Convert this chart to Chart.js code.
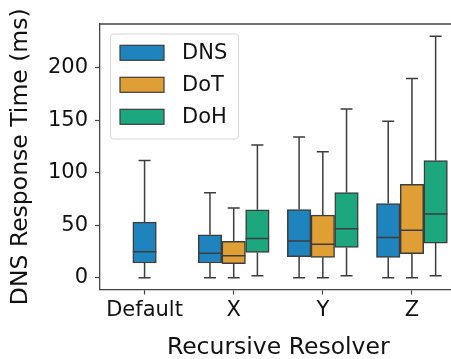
<!DOCTYPE html>
<html lang="en">
<head>
  <meta charset="UTF-8">
  <title>DNS Response Time by Recursive Resolver</title>
  <script src="https://cdn.jsdelivr.net/npm/chart.js"></script>
  <style>
    body {
      margin: 0;
      overflow: hidden;
      background: #fff;
    }
    #wrap {
      width: 470px;
      height: 359px;
    }
  </style>
</head>
<body>
  <div id="wrap"><canvas id="grafico"></canvas></div>

  <script>
    const categories = ['Default', 'X', 'Y', 'Z'];
    const series = ['DNS', 'DoT', 'DoH'];
    const colors = ['#1f84bd', '#e09f35', '#1ca77f'];
    const yTicks = [0, 50, 100, 150, 200];

    // five-number summaries (ms)
    const dnsMin = [0, 0, 0, 0];
    const dnsQ1 = [14, 14, 20, 19.4];
    const dnsMed = [24.7, 23.2, 34.9, 38.4];
    const dnsQ3 = [52.9, 40.9, 65, 70.7];
    const dnsMax = [111.6, 81, 134, 149];

    const dotMin = [null, 0, 0, 0];
    const dotQ1 = [null, 13.3, 19.4, 22.8];
    const dotMed = [null, 20.9, 32, 45.3];
    const dotQ3 = [null, 34.6, 59.6, 89];
    const dotMax = [null, 66.3, 120, 189.8];

    const dohMin = [null, 1.9, 2, 2];
    const dohQ1 = [null, 24.1, 28.9, 33];
    const dohMed = [null, 37.4, 46.6, 60.8];
    const dohQ3 = [null, 64.7, 81.2, 111.6];
    const dohMax = [null, 126.5, 160.7, 230];

    const stats = [
      { min: dnsMin, q1: dnsQ1, med: dnsMed, q3: dnsQ3, max: dnsMax },
      { min: dotMin, q1: dotQ1, med: dotMed, q3: dotQ3, max: dotMax },
      { min: dohMin, q1: dohQ1, med: dohMed, q3: dohQ3, max: dohMax }
    ];

    const FONT = 'DejaVu Sans';
    const EDGE = '#3d3d3d';
    const slot = 0.266;

    // position of a hue within its category (centred when it is alone)
    function xPos(s, c) {
      const present = stats.filter(st => st.q1[c] !== null).length;
      return present === 1 ? c : c + (s - 1) * slot;
    }

    const datasets = series.map((name, s) => ({
      label: name,
      data: categories.map((_, c) => stats[s].q1[c] === null ? null :
        { x: xPos(s, c), y: [stats[s].q1[c], stats[s].q3[c]], c: c }).filter(d => d),
      backgroundColor: colors[s],
      borderColor: EDGE,
      borderWidth: 1.5,
      borderSkipped: false,
      barThickness: 23.5,
      grouped: false
    }));

    const bigotes = {
      id: 'bigotes',
      afterDatasetsDraw(chart) {
        const ctx = chart.ctx;
        const y = chart.scales.y;
        ctx.save();
        ctx.strokeStyle = EDGE;
        ctx.lineWidth = 1.5;
        chart.data.datasets.forEach((ds, s) => {
          const meta = chart.getDatasetMeta(s);
          meta.data.forEach((bar, i) => {
            const c = ds.data[i].c;
            const st = stats[s];
            const x = bar.x;
            const half = bar.width / 2;
            ctx.beginPath();
            ctx.moveTo(x, y.getPixelForValue(st.q3[c]));
            ctx.lineTo(x, y.getPixelForValue(st.max[c]));
            ctx.moveTo(x, y.getPixelForValue(st.q1[c]));
            ctx.lineTo(x, y.getPixelForValue(st.min[c]));
            ctx.moveTo(x - 6, y.getPixelForValue(st.max[c]));
            ctx.lineTo(x + 6, y.getPixelForValue(st.max[c]));
            ctx.moveTo(x - 6, y.getPixelForValue(st.min[c]));
            ctx.lineTo(x + 6, y.getPixelForValue(st.min[c]));
            ctx.moveTo(x - half, y.getPixelForValue(st.med[c]));
            ctx.lineTo(x + half, y.getPixelForValue(st.med[c]));
            ctx.stroke();
          });
        });
        ctx.restore();
      }
    };

    const marco = {
      id: 'marco',
      afterDraw(chart) {
        const ctx = chart.ctx;
        const a = chart.chartArea;
        ctx.save();
        ctx.strokeStyle = '#444';
        ctx.lineWidth = 1.3;
        ctx.beginPath();
        ctx.moveTo(a.left, a.top);
        ctx.lineTo(a.right, a.top);
        ctx.stroke();

        // legend box
        const lx = 110, ly = 33.5, lw = 128, lh = 105;
        ctx.fillStyle = 'rgba(255,255,255,0.85)';
        ctx.strokeStyle = '#d6d6d6';
        ctx.lineWidth = 1;
        ctx.beginPath();
        ctx.roundRect(lx + 0.5, ly + 0.5, lw, lh, 3);
        ctx.fill();
        ctx.stroke();
        ctx.font = '21px "' + FONT + '"';
        ctx.textBaseline = 'middle';
        series.forEach((name, s) => {
          const cy = 52.8 + s * 32;
          ctx.fillStyle = colors[s];
          ctx.fillRect(120, cy - 7.5, 44, 15);
          ctx.strokeStyle = EDGE;
          ctx.lineWidth = 1.2;
          ctx.strokeRect(120, cy - 7.5, 44, 15);
          ctx.fillStyle = '#111';
          ctx.fillText(name, 182, cy + 1);
        });
        ctx.restore();
      }
    };

    new Chart(document.getElementById('grafico'), {
      type: 'bar',
      data: { datasets },
      options: {
        responsive: true,
        maintainAspectRatio: false,
        animation: false,
        layout: { padding: { top: 24, right: 13.5, left: 0, bottom: 0 } },
        plugins: {
          legend: { display: false },
          tooltip: { enabled: false }
        },
        scales: {
          x: {
            type: 'linear',
            offset: false,
            min: -0.5,
            max: 3.5,
            afterBuildTicks: s => { s.ticks = categories.map((_, i) => ({ value: i })); },
            afterFit: s => { s.height = 69.5; },
            grid: { display: true, offset: false, drawOnChartArea: false, tickLength: 5, tickColor: '#444', tickWidth: 1.2 },
            border: { color: '#444', width: 1.3 },
            ticks: {
              callback: v => categories[v],
              color: '#111',
              padding: 3,
              maxRotation: 0,
              font: { family: FONT, size: 21 }
            },
            title: {
              display: true,
              text: 'Recursive Resolver',
              color: '#111',
              padding: { top: 0, bottom: -3 },
              font: { family: FONT, size: 23.5 }
            }
          },
          y: {
            min: -11.2,
            max: 241.6,
            afterBuildTicks: s => { s.ticks = yTicks.map(v => ({ value: v })); },
            afterFit: s => { s.width = 100; },
            grid: { display: true, drawOnChartArea: false, tickLength: 5, tickColor: '#444', tickWidth: 1.2 },
            border: { color: '#444', width: 1.3 },
            ticks: {
              color: '#111',
              padding: 7,
              font: { family: FONT, size: 21 }
            },
            title: {
              display: true,
              text: 'DNS Response Time (ms)',
              color: '#111',
              padding: { top: 7, bottom: 0 },
              font: { family: FONT, size: 23.5 }
            }
          }
        }
      },
      plugins: [bigotes, marco]
    });
  </script>
</body>
</html>
